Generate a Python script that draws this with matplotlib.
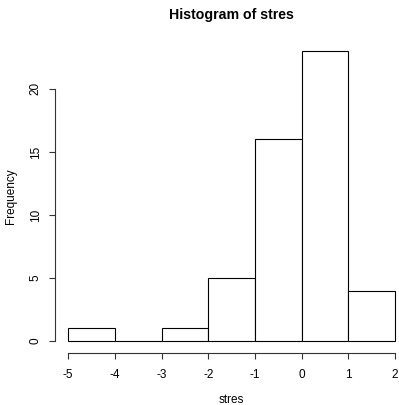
import matplotlib.pyplot as plt

# histogram of studentized residuals
bin_edges = [-5, -4, -3, -2, -1, 0, 1, 2]
counts = [1, 0, 1, 5, 16, 23, 4]
x_ticks = [-5, -4, -3, -2, -1, 0, 1, 2]
y_ticks = [0, 5, 10, 15, 20]


def main():
    plt.rcParams["font.family"] = ["Liberation Sans", "DejaVu Sans"]
    plt.rcParams["axes.unicode_minus"] = False  # R prints plain hyphens
    fig = plt.figure(figsize=(3.99, 4.05), dpi=100)
    ax = fig.add_axes([0.138, 0.1294, 0.885, 0.773])

    lefts = bin_edges[:-1]
    widths = [b - a for a, b in zip(bin_edges[:-1], bin_edges[1:])]
    ax.bar(lefts, counts, width=widths, align="edge",
           facecolor="white", edgecolor="black", linewidth=0.8)

    ax.set_xlim(-5.28, 2.28)
    ax.set_ylim(-0.92, 23.92)

    for s in ("top", "right"):
        ax.spines[s].set_visible(False)
    ax.spines["left"].set_bounds(0, 20)
    ax.spines["bottom"].set_bounds(-5, 2)
    for s in ("left", "bottom"):
        ax.spines[s].set_linewidth(0.8)
        ax.spines[s].set_color("#333333")

    ax.set_xticks(x_ticks)
    ax.set_yticks(y_ticks)
    ax.set_yticklabels([str(v) for v in y_ticks], rotation=90, va="center")
    ax.tick_params(axis="both", direction="out", length=4.5, width=0.8,
                   color="#333333", labelsize=8.5)
    ax.tick_params(axis="x", pad=7)
    ax.tick_params(axis="y", pad=5)

    ax.set_xlabel("stres", fontsize=8.5, labelpad=10)
    ax.set_ylabel("Frequency", fontsize=8.5, labelpad=9)
    ax.set_title("Histogram of stres", fontsize=10.2, fontweight="bold",
                 pad=15)

    fig.savefig("out.png", dpi=100)


if __name__ == "__main__":
    main()
